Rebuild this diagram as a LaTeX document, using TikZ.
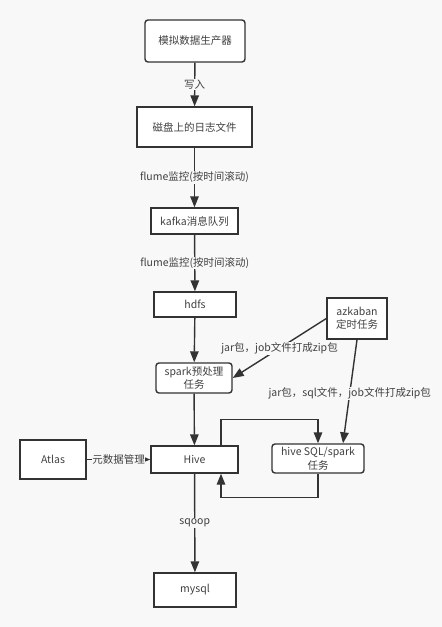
\documentclass[tikz,border=0pt]{standalone}
\usepackage{fontspec}
\setmainfont{Noto Sans CJK SC}
\usetikzlibrary{arrows.meta}
\definecolor{bg}{HTML}{F8F8F8}
\definecolor{ln}{HTML}{333333}
\definecolor{tx}{HTML}{404040}
\begin{document}
\begin{tikzpicture}[x=1pt,y=-1pt,
  font=\fontsize{10.5}{13.5}\selectfont,
  box/.style={draw=ln,line width=1.4pt,fill=white,text=tx,align=center,inner sep=0pt},
  rbox/.style={box,rounded corners=3pt},
  arr/.style={draw=ln,line width=1.4pt,-{Triangle[length=11pt,width=8.5pt]}},
  lbl/.style={fill=bg,text=tx,inner sep=1pt}]
\fill[bg] (0,0) rectangle (442,627);
\useasboundingbox (0,0) rectangle (442,627);

\node[rbox,minimum width=100pt,minimum height=42pt] (n1) at (195,41) {模拟数据生产器};
\node[box,minimum width=115pt,minimum height=40pt] (n2) at (194.5,127) {磁盘上的日志文件};
\node[box,minimum width=87pt,minimum height=26pt] (n3) at (194.5,221) {kafka消息队列};
\node[box,minimum width=82pt,minimum height=25pt] (n4) at (195,304.5) {hdfs};
\node[box,minimum width=60pt,minimum height=41pt] (az) at (357,318.5) {azkaban\\定时任务};
\node[rbox,minimum width=76pt,minimum height=30pt] (sp) at (194,378) {spark预处理\\任务};
\node[box,minimum width=87pt,minimum height=27pt] (hive) at (194.5,459.5) {Hive};
\node[rbox,minimum width=92pt,minimum height=29pt] (hs) at (318,458.5) {hive SQL/spark\\任务};
\node[box,minimum width=66pt,minimum height=39pt] (atlas) at (53,459.5) {Atlas};
\node[box,minimum width=82pt,minimum height=34pt] (mysql) at (195,590) {mysql};

\draw[arr] (n1) -- node[lbl]{写入} (n2);
\draw[arr] (n2) -- node[lbl]{flume监控(按时间滚动)} (n3);
\draw[arr] (n3) -- node[lbl]{flume监控(按时间滚动)} (n4);
\draw[arr] (n4) -- (sp);
\draw[arr] (sp) -- (hive);
\draw[arr] (az.west) -- node[lbl,pos=0.5]{jar包，job文件打成zip包} (sp.east);
\draw[arr] (az.south) -- node[lbl,pos=0.52]{jar包，sql文件，job文件打成zip包} ([xshift=25pt]hs.north);
\draw[arr] ([xshift=26.5pt]hive.north) -- ++(0,-26) -| (hs.north);
\draw[arr] (hs.south) -- ++(0,24) -| ([xshift=26.5pt]hive.south);
\draw[arr] (atlas.east) -- node[lbl,inner sep=0.5pt]{元数据管理} (hive.west);
\draw[arr] (hive) -- node[lbl]{sqoop} (mysql);
\end{tikzpicture}
\end{document}
